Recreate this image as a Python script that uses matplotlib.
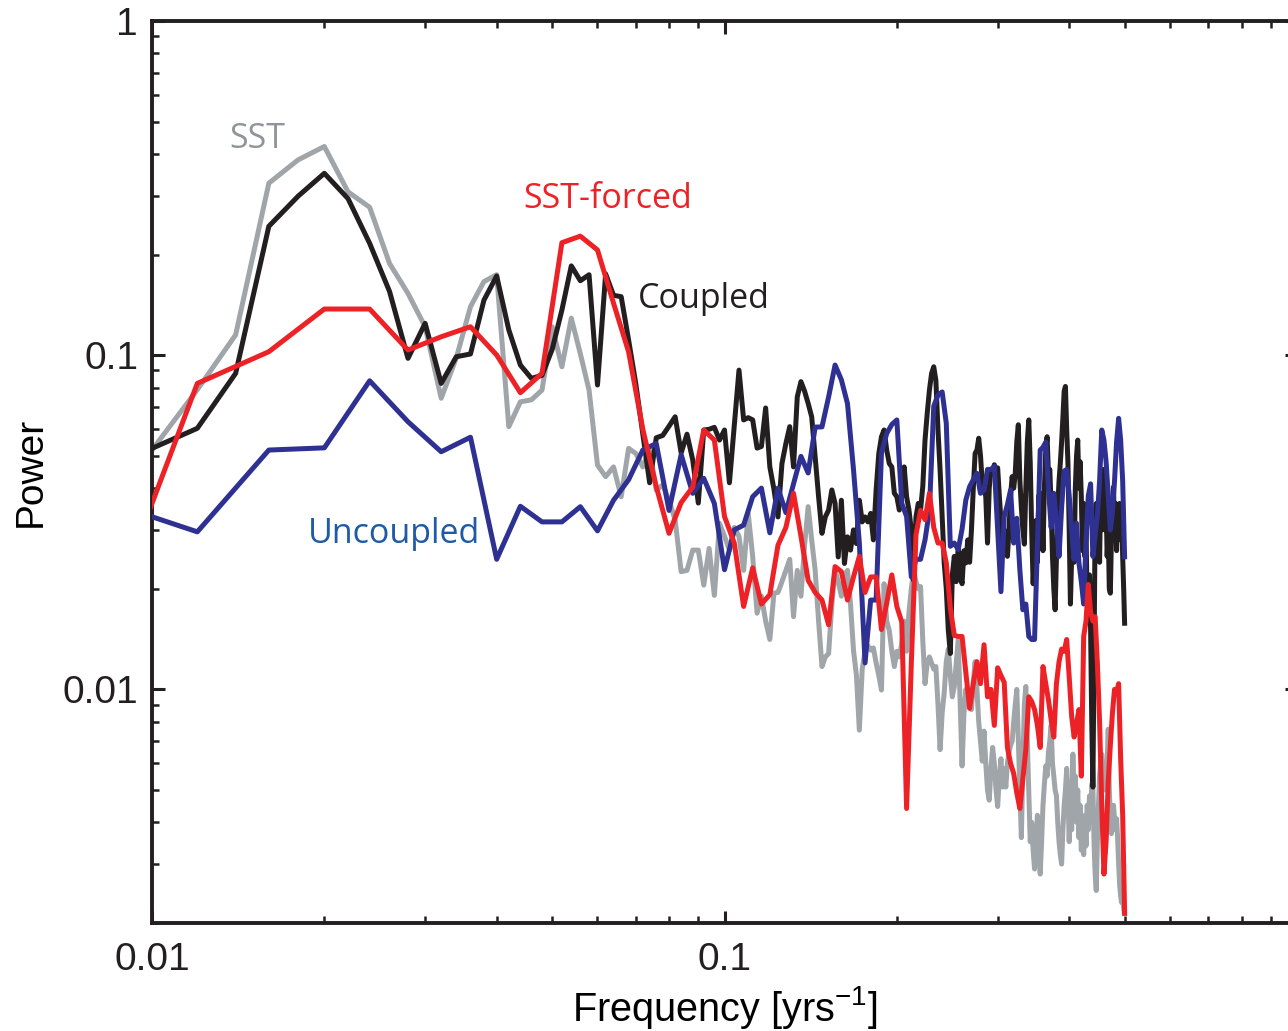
import numpy as np
import matplotlib
matplotlib.use("Agg")
import matplotlib.pyplot as plt
from matplotlib.ticker import LogLocator, NullFormatter

# Frequency grids [yrs^-1]: the SST and coupled runs are resolved at 1/500,
# the SST-forced and uncoupled runs at 1/250.
freq_fine = np.arange(5, 251) / 500.0
freq_coarse = np.arange(2, 126) / 250.0

sst_power = [
    0.052, 0.0788, 0.115, 0.327, 0.384, 0.421, 0.308, 0.277, 0.188, 0.153,
    0.1216, 0.0743, 0.098, 0.1396, 0.166, 0.174, 0.0611, 0.0725, 0.0735, 0.0786,
    0.1216, 0.0923, 0.129, 0.101, 0.0786, 0.0469, 0.0433, 0.0463, 0.0377, 0.0526,
    0.0508, 0.0463, 0.052, 0.0395, 0.0409, 0.0368, 0.0321, 0.0225, 0.0227, 0.0261,
    0.0261, 0.0205, 0.0264, 0.0191, 0.0314, 0.0287, 0.0261, 0.0305, 0.0287, 0.0227,
    0.0336, 0.025, 0.0169, 0.019, 0.016, 0.0141, 0.0194, 0.0195, 0.021, 0.0227,
    0.0245, 0.0165, 0.0227, 0.019, 0.027, 0.0352, 0.028, 0.0227, 0.016, 0.0117,
    0.0125, 0.0128, 0.018, 0.0227, 0.021, 0.019, 0.022, 0.0227, 0.018, 0.0131,
    0.011, 0.00755, 0.0115, 0.013, 0.0135, 0.0131, 0.0133, 0.012, 0.011, 0.00995,
    0.0207, 0.016, 0.015, 0.013, 0.0117, 0.013, 0.0125, 0.0137, 0.016, 0.013,
    0.017, 0.020, 0.0227, 0.021, 0.020, 0.0203, 0.014, 0.0104, 0.012, 0.0125,
    0.012, 0.0115, 0.0117, 0.009, 0.0066, 0.0085, 0.0098, 0.0121, 0.0132, 0.011,
    0.0095, 0.0102, 0.012, 0.0141, 0.009, 0.0059, 0.0085, 0.0100, 0.009, 0.0095,
    0.0087, 0.0105, 0.0121, 0.010, 0.008, 0.007, 0.0061, 0.0075, 0.006, 0.005,
    0.00466, 0.0058, 0.0067, 0.006, 0.005, 0.00446, 0.0055, 0.0062, 0.0051, 0.0058,
    0.0051, 0.006, 0.0065, 0.0068, 0.0070, 0.008, 0.009, 0.0100, 0.007, 0.005,
    0.0036, 0.006, 0.009, 0.0102, 0.007, 0.005, 0.0035, 0.004, 0.0033, 0.0029,
    0.0035, 0.0042, 0.0033, 0.0028, 0.0035, 0.0045, 0.0052, 0.0059, 0.0055, 0.0065,
    0.007, 0.0078, 0.006, 0.0055, 0.005, 0.0048, 0.004, 0.0035, 0.0032, 0.0030,
    0.0038, 0.0045, 0.005, 0.0058, 0.005, 0.0035, 0.0048, 0.0038, 0.0064, 0.0045,
    0.0055, 0.0040, 0.0050, 0.0036, 0.0045, 0.0033, 0.0040, 0.0032, 0.0042, 0.0034,
    0.0045, 0.0038, 0.0048, 0.0040, 0.0052, 0.0051, 0.0035, 0.0028, 0.0025, 0.0035,
    0.0045, 0.0055, 0.006, 0.0064, 0.0058, 0.0055, 0.005, 0.0051, 0.006, 0.0076,
    0.005, 0.0042, 0.0037, 0.004, 0.0045, 0.0041, 0.0038, 0.0041, 0.0036, 0.003,
    0.0026, 0.0024, 0.0023, 0.0025, 0.0022, 0.0021,
]

coupled_power = [
    0.0526, 0.0604, 0.0882, 0.243, 0.299, 0.350, 0.294, 0.216, 0.155, 0.0978,
    0.1245, 0.0823, 0.0989, 0.1008, 0.146, 0.1725, 0.119, 0.0934, 0.0852, 0.087,
    0.104, 0.1365, 0.185, 0.167, 0.174, 0.0814, 0.175, 0.151, 0.1496, 0.111,
    0.082, 0.058, 0.0415, 0.0566, 0.0575, 0.0613, 0.0654, 0.051, 0.058, 0.0486,
    0.0361, 0.0597, 0.060, 0.0608, 0.0557, 0.0597, 0.0415, 0.0613, 0.0902, 0.064,
    0.065, 0.064, 0.0527, 0.0533, 0.0695, 0.0463, 0.0397, 0.0328, 0.0474, 0.0544,
    0.0611, 0.0463, 0.075, 0.0833, 0.078, 0.0717, 0.0654, 0.0497, 0.0377, 0.0293,
    0.0328, 0.0344, 0.0395, 0.036, 0.0249, 0.0368, 0.0238, 0.0286, 0.0261, 0.030,
    0.0273, 0.0368, 0.0317, 0.0328, 0.0317, 0.0336, 0.028, 0.0395, 0.0508, 0.057,
    0.0597, 0.052, 0.0474, 0.0463, 0.0386, 0.0377, 0.0344, 0.0377, 0.0463, 0.0377,
    0.0344, 0.030, 0.0212, 0.0328, 0.036, 0.0344, 0.0405, 0.0557, 0.067, 0.0786,
    0.0882, 0.0923, 0.084, 0.0597, 0.0453, 0.0328, 0.0238, 0.020, 0.015, 0.0128,
    0.022, 0.025, 0.021, 0.0268, 0.022, 0.0207, 0.026, 0.0239, 0.028, 0.024,
    0.030, 0.040, 0.0508, 0.052, 0.0564, 0.050, 0.0414, 0.040, 0.0377, 0.0274,
    0.040, 0.0455, 0.044, 0.047, 0.045, 0.046, 0.038, 0.032, 0.0274, 0.030,
    0.026, 0.025, 0.030, 0.038, 0.0433, 0.040, 0.0443, 0.055, 0.0619, 0.0424,
    0.035, 0.030, 0.0272, 0.040, 0.055, 0.064, 0.0476, 0.030, 0.0207, 0.026,
    0.032, 0.024, 0.038, 0.030, 0.0386, 0.026, 0.040, 0.052, 0.057, 0.044,
    0.0455, 0.035, 0.025, 0.020, 0.0173, 0.025, 0.035, 0.042, 0.0476, 0.055,
    0.065, 0.078, 0.0806, 0.060, 0.0476, 0.030, 0.018, 0.025, 0.032, 0.024,
    0.040, 0.050, 0.0557, 0.040, 0.048, 0.0377, 0.026, 0.036, 0.025, 0.030,
    0.018, 0.0177, 0.022, 0.015, 0.008, 0.0051, 0.012, 0.0329, 0.036, 0.026,
    0.034, 0.024, 0.040, 0.030, 0.0455, 0.042, 0.030, 0.036, 0.025, 0.030,
    0.020, 0.0194, 0.028, 0.036, 0.0403, 0.030, 0.036, 0.026, 0.034, 0.0287,
    0.036, 0.028, 0.034, 0.025, 0.020, 0.0155,
]

forced_power = [
    0.01308, 0.0823, 0.1024, 0.1374, 0.1374, 0.1036, 0.1135, 0.1216, 0.1001, 0.0772,
    0.0882, 0.217, 0.227, 0.2064, 0.143, 0.1023, 0.060, 0.0404, 0.0293, 0.0362,
    0.0403, 0.0597, 0.0557, 0.0329, 0.0274, 0.0177, 0.0231, 0.018, 0.0192, 0.027,
    0.0305, 0.0386, 0.0287, 0.0212, 0.0195, 0.0185, 0.0156, 0.0233, 0.0225, 0.0185,
    0.0217, 0.025, 0.0195, 0.0217, 0.0217, 0.0151, 0.0181, 0.022, 0.0177, 0.0159,
    0.0044, 0.012, 0.029, 0.0343, 0.0322, 0.0386, 0.0305, 0.0274, 0.0274, 0.0239,
    0.0175, 0.0145, 0.0144, 0.0144, 0.0112, 0.00877, 0.0104, 0.0121, 0.0104, 0.0136,
    0.0095, 0.010, 0.0078, 0.0116, 0.011, 0.0105, 0.0067, 0.006, 0.0056, 0.0049,
    0.0044, 0.0054, 0.0066, 0.0095, 0.0092, 0.0087, 0.0078, 0.0067, 0.0117, 0.0104,
    0.0093, 0.0081, 0.0072, 0.0104, 0.0121, 0.0132, 0.013, 0.0141, 0.0109, 0.0083,
    0.0072, 0.0079, 0.0087, 0.0055, 0.0144, 0.016, 0.0206, 0.017, 0.016, 0.0165,
    0.012, 0.008, 0.0045, 0.0028, 0.0035, 0.0053, 0.0068, 0.0085, 0.0100, 0.0098,
    0.0104, 0.0062, 0.0042, 0.0021,
]

uncoupled_power = [
    0.0373, 0.0296, 0.0520, 0.0528, 0.0838, 0.0632, 0.0514, 0.0568, 0.0245, 0.0353,
    0.0317, 0.0317, 0.0352, 0.0298, 0.0368, 0.0424, 0.052, 0.0544, 0.0343, 0.0504,
    0.0386, 0.0428, 0.036, 0.0228, 0.030, 0.031, 0.0377, 0.040, 0.0294, 0.040,
    0.0338, 0.0412, 0.0498, 0.0444, 0.0609, 0.061, 0.075, 0.0934, 0.0844, 0.0716,
    0.0455, 0.0274, 0.0120, 0.0185, 0.0185, 0.0509, 0.0583, 0.062, 0.064, 0.036,
    0.0329, 0.0217, 0.0245, 0.0245, 0.028, 0.0343, 0.0703, 0.076, 0.0776, 0.0625,
    0.0268, 0.0274, 0.0262, 0.0302, 0.0369, 0.0404, 0.0424, 0.0443, 0.0386, 0.0395,
    0.0455, 0.0455, 0.0465, 0.030, 0.0196, 0.0329, 0.0357, 0.0395, 0.0274, 0.0325,
    0.0228, 0.0173, 0.018, 0.0144, 0.0141, 0.0141, 0.0271, 0.052, 0.053, 0.0549,
    0.040, 0.0305, 0.0386, 0.032, 0.025, 0.035, 0.045, 0.0455, 0.038, 0.030,
    0.0245, 0.0314, 0.0239, 0.021, 0.018, 0.028, 0.038, 0.0412, 0.025, 0.029,
    0.033, 0.042, 0.0597, 0.0557, 0.048, 0.038, 0.030, 0.034, 0.042, 0.055,
    0.0647, 0.0557, 0.042, 0.0245,
]

GRAY = "#a0a5a9"
BLACK = "#231f20"
RED = "#ed2227"
NAVY = "#2e3192"

plt.rcParams["font.family"] = ["Liberation Sans", "DejaVu Sans"]
plt.rcParams["mathtext.fontset"] = "custom"
plt.rcParams["mathtext.rm"] = "Liberation Sans"
plt.rcParams["mathtext.it"] = "Liberation Sans:italic"

fig = plt.figure(figsize=(12.88, 10.31), dpi=100)
# the frequency axis runs to 1, the right spine sits just past the figure edge
ax = fig.add_axes([0.118, 0.1048, 0.889, 0.8749])

lw = 3.6
kw = dict(lw=lw, solid_joinstyle="round", solid_capstyle="butt")
ax.plot(freq_fine, sst_power, color=GRAY, zorder=2, **kw)
ax.plot(freq_fine, coupled_power, color=BLACK, zorder=3, **kw)
ax.plot(freq_coarse, uncoupled_power, color=NAVY, zorder=4, **kw)
ax.plot(freq_coarse, forced_power, color=RED, zorder=5, **kw)

ax.set_xscale("log")
ax.set_yscale("log")
ax.set_xlim(0.01, 1.0)
ax.set_ylim(0.002, 1.0)

ax.set_xticks([0.01, 0.1, 1.0])
ax.set_xticklabels(["0.01", "0.1", ""])
ax.set_yticks([0.01, 0.1, 1.0])
ax.set_yticklabels(["0.01", "0.1", "1"])
for axis in (ax.xaxis, ax.yaxis):
    axis.set_minor_locator(LogLocator(base=10, subs=np.arange(2, 10)))
    axis.set_minor_formatter(NullFormatter())

ax.tick_params(which="both", direction="in", top=True, right=True,
               colors=BLACK, labelsize=28)
ax.tick_params(which="major", length=9, width=2.2)
ax.tick_params(which="minor", length=5, width=1.8)
ax.tick_params(axis="x", which="major", pad=14)
ax.tick_params(axis="y", which="major", pad=10)
for sp in ax.spines.values():
    sp.set_linewidth(2.8)
    sp.set_color(BLACK)

ax.set_xlabel("Frequency [yrs$^{-1}$]", fontsize=28.5, labelpad=4)
ax.set_ylabel("Power", fontsize=28, labelpad=10)

lab = dict(family=["Open Sans", "DejaVu Sans"], fontsize=24.5,
           ha="center", va="baseline")
ax.text(0.01525, 0.417, "SST", color="#8f959a", **lab)
ax.text(0.0626, 0.2756, "SST-forced", color=RED, **lab)
ax.text(0.0921, 0.1384, "Coupled", color=BLACK, **lab)
ax.text(0.02652, 0.0274, "Uncoupled", color="#1f5aa6", **lab)

fig.savefig("out.png", dpi=100)
